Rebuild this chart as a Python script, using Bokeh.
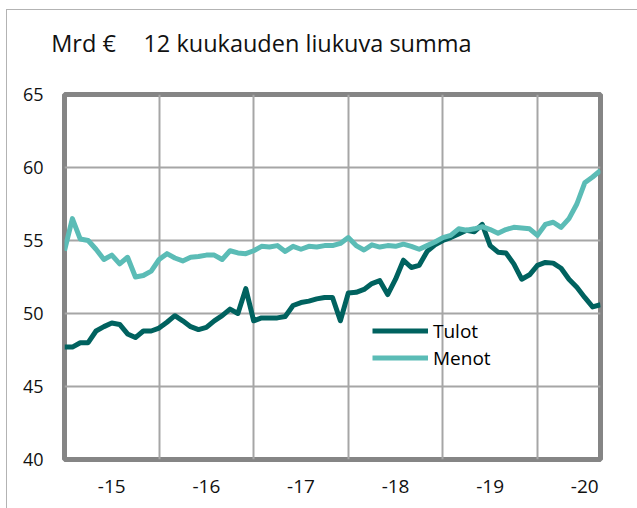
from bokeh.plotting import figure
from bokeh.models import Legend, LegendItem, FixedTicker, Range1d, LinearAxis
from bokeh.embed import file_html
from bokeh.resources import INLINE

# ---- data (monthly, Jan 2015 .. Sep 2020), billion euro, 12-month rolling sum
start_year = 2015
tulot = [47.7, 47.7, 48.0, 48.0, 48.8, 49.1, 49.35, 49.25, 48.6, 48.35, 48.8, 48.8,
         49.0, 49.4, 49.85, 49.5, 49.1, 48.9, 49.05, 49.5, 49.85, 50.3, 50.0, 51.7,
         49.5, 49.7, 49.7, 49.7, 49.8, 50.55, 50.75, 50.85, 51.0, 51.1, 51.1, 49.5,
         51.4, 51.45, 51.65, 52.05, 52.25, 51.3, 52.35, 53.65, 53.15, 53.3, 54.25, 54.7,
         55.0, 55.2, 55.45, 55.7, 55.6, 56.1, 54.65, 54.2, 54.15, 53.4, 52.35, 52.65,
         53.3, 53.5, 53.45, 53.1, 52.35, 51.8, 51.1, 50.45, 50.6]
menot = [54.3, 56.5, 55.1, 55.0, 54.4, 53.7, 54.0, 53.4, 53.85, 52.5, 52.6, 52.9,
         53.7, 54.1, 53.8, 53.6, 53.85, 53.9, 54.0, 54.0, 53.7, 54.3, 54.15, 54.1,
         54.3, 54.6, 54.55, 54.65, 54.25, 54.6, 54.4, 54.6, 54.55, 54.65, 54.65, 54.8,
         55.2, 54.65, 54.35, 54.7, 54.55, 54.65, 54.6, 54.75, 54.6, 54.4, 54.65, 54.9,
         55.2, 55.35, 55.8, 55.7, 55.8, 55.95, 55.75, 55.5, 55.75, 55.9, 55.85, 55.8,
         55.35, 56.1, 56.25, 55.9, 56.5, 57.5, 58.95, 59.35, 59.8]
year_labels = ["-15", "-16", "-17", "-18", "-19", "-20"]
y_ticks = [40, 45, 50, 55, 60, 65]
series_names = ["Tulot", "Menot"]
title_unit = "Mrd €"
title_text = "12 kuukauden liukuva summa"

months = list(range(len(tulot)))
n_years = len(year_labels)

FONT = "Open Sans"
C_TULOT = "#00625f"
C_MENOT = "#5bbcb6"

W, H = 637, 508
FRAME_LEFT, FRAME_TOP, FRAME_RIGHT, FRAME_BOTTOM = 64, 94, 600, 459
x0, x1 = 0, len(months) - 1
y0, y1 = y_ticks[0], y_ticks[-1]

p = figure(width=W, height=H, output_backend="svg", toolbar_location=None,
           x_range=Range1d(x0, x1), y_range=Range1d(y0, y1),
           min_border_left=FRAME_LEFT, min_border_right=W - FRAME_RIGHT,
           min_border_top=FRAME_TOP, min_border_bottom=H - FRAME_BOTTOM)
p.background_fill_color = "white"
p.border_fill_alpha = 0
p.outline_line_color = "#858585"
p.outline_line_width = 5
p.styles = {"background-color": "white",
            "box-shadow": "inset 6px 9px 0 0 white, inset 7px 10px 0 0 #b3b3b3"}

xax = p.below[0]
yax = p.left[0]
xax.ticker = FixedTicker(ticks=[6 + 12 * k for k in range(n_years)])
xax.major_label_overrides = {6 + 12 * k: lab for k, lab in enumerate(year_labels)}
yax.ticker = FixedTicker(ticks=y_ticks)

# title line: a label-only axis above the frame, in page-pixel units
p.extra_x_ranges = {"page_px": Range1d(FRAME_LEFT, FRAME_RIGHT)}
title_centers = [83, 307]          # horizontal centres of the two title texts (px)
tax = LinearAxis(x_range_name="page_px", ticker=FixedTicker(ticks=title_centers),
                 major_label_overrides={title_centers[0]: title_unit,
                                        title_centers[1]: title_text})
p.add_layout(tax, "above")

for ax in (xax, yax, tax):
    ax.axis_line_color = None
    ax.major_tick_line_color = None
    ax.minor_tick_line_color = None
    ax.major_tick_out = 0
    ax.major_tick_in = 0
    ax.minor_tick_out = 0
    ax.minor_tick_in = 0
    ax.major_label_text_font = FONT
    ax.major_label_text_color = "#111111"
xax.major_label_text_font_size = "19px"
yax.major_label_text_font_size = "18px"
xax.major_label_standoff = 20
yax.major_label_standoff = 21
tax.major_label_text_font_size = "23.5px"
tax.major_label_standoff = 36

p.xgrid.ticker = FixedTicker(ticks=[12 * k for k in range(1, n_years)])
p.ygrid.ticker = FixedTicker(ticks=y_ticks[1:-1])
for g in (p.xgrid[0], p.ygrid[0]):
    g.grid_line_color = "#a6a6a6"
    g.grid_line_width = 2

r_t = p.line(months, tulot, line_color=C_TULOT, line_width=5, line_join="round")
r_m = p.line(months, menot, line_color=C_MENOT, line_width=5, line_join="round")

legend = Legend(items=[LegendItem(label=series_names[0], renderers=[r_t]),
                       LegendItem(label=series_names[1], renderers=[r_m])],
                location=(308, 88), orientation="vertical",
                label_text_font=FONT, label_text_font_size="19px", label_text_color="#000000",
                glyph_width=56, glyph_height=27, label_height=27, label_standoff=5,
                padding=0, margin=0, spacing=0,
                background_fill_alpha=0, border_line_color=None)
p.add_layout(legend)

open("out.html", "w").write(file_html(p, INLINE))
